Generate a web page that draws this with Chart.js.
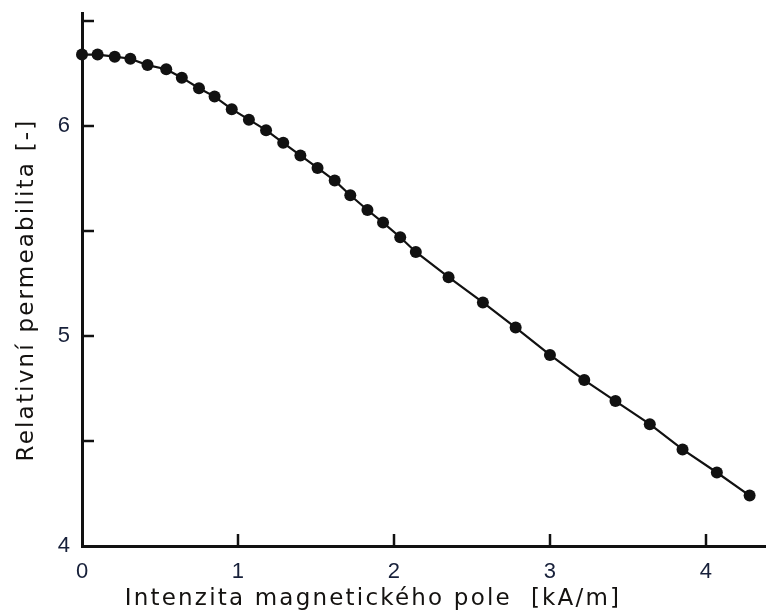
<!DOCTYPE html>
<html>
<head>
<meta charset="utf-8">
<title>Relativní permeabilita</title>
<script src="https://cdn.jsdelivr.net/npm/chart.js@4.4.1/dist/chart.umd.min.js"></script>
<style>
    html, body {
        margin: 0;
        padding: 0;
        background: #ffffff;
    }
    #chartBox {
        width: 766px;
        height: 611px;
    }
</style>
</head>
<body>
<div id="chartBox">
    <canvas id="permChart" width="766" height="611"></canvas>
</div>
<script>
// intenzita magnetickeho pole [kA/m]
const fieldValues = [
    0.00, 0.10, 0.21, 0.31, 0.42, 0.54, 0.64, 0.75, 0.85, 0.96,
    1.07, 1.18, 1.29, 1.40, 1.51, 1.62, 1.72, 1.83, 1.93, 2.04,
    2.14, 2.35, 2.57, 2.78, 3.00, 3.22, 3.42, 3.64, 3.85, 4.07,
    4.28
];

// relativni permeabilita [-]
const permValues = [
    6.34, 6.34, 6.33, 6.32, 6.29, 6.27, 6.23, 6.18, 6.14, 6.08,
    6.03, 5.98, 5.92, 5.86, 5.80, 5.74, 5.67, 5.60, 5.54, 5.47,
    5.40, 5.28, 5.16, 5.04, 4.91, 4.79, 4.69, 4.58, 4.46, 4.35,
    4.24
];

const xTickLabels = ["0", "1", "2", "3", "4"];
const yTickLabels = ["4", "5", "6"];

const xTitle = "Intenzita magnetického pole  [kA/m]";
const yTitle = "Relativní permeabilita [-]";

const points = fieldValues.map((x, i) => ({ x: x, y: permValues[i] }));

// short tick marks pointing into the plot, like the original figure
const innerTicks = {
    id: "innerTicks",
    afterDraw(chart) {
        const ctx = chart.ctx;
        const xs = chart.scales.x;
        const ys = chart.scales.y;
        ctx.save();
        ctx.strokeStyle = "#111111";
        ctx.lineWidth = 2.5;
        ys.ticks.forEach(t => {
            if (t.value <= ys.min) return;
            const y = Math.round(ys.getPixelForValue(t.value));
            ctx.beginPath();
            ctx.moveTo(xs.left, y);
            ctx.lineTo(xs.left + 12, y);
            ctx.stroke();
        });
        xs.ticks.forEach(t => {
            if (t.value <= xs.min) return;
            const x = Math.round(xs.getPixelForValue(t.value));
            ctx.beginPath();
            ctx.moveTo(x, ys.bottom);
            ctx.lineTo(x, ys.bottom - 12);
            ctx.stroke();
        });
        ctx.restore();
    }
};

const axisTitles = {
    id: "axisTitles",
    afterDraw(chart) {
        const ctx = chart.ctx;
        ctx.save();
        ctx.fillStyle = "#141210";
        ctx.font = "23px 'DejaVu Sans'";
        ctx.textAlign = "center";
        ctx.textBaseline = "alphabetic";
        ctx.letterSpacing = "2.2px";
        ctx.fillText(xTitle, 373, 605);

        ctx.translate(33, 290);
        ctx.rotate(-Math.PI / 2);
        ctx.fillText(yTitle, 0, 0);
        ctx.restore();
    }
};

function noEdgePadding(scale) {
    scale.paddingTop = 0;
    scale.paddingBottom = 0;
    scale.paddingLeft = 0;
    scale.paddingRight = 0;
}

new Chart(document.getElementById("permChart"), {
    type: "scatter",
    data: {
        datasets: [
            {
                label: "permeabilita",
                data: points,
                showLine: true,
                borderColor: "#111111",
                borderWidth: 2.2,
                backgroundColor: "#111111",
                pointRadius: 6,
                pointBorderWidth: 0,
                pointHoverRadius: 6,
                tension: 0,
                clip: false
            }
        ]
    },
    options: {
        responsive: false,
        animation: false,
        layout: {
            autoPadding: false,
            padding: { top: 13, right: 0, bottom: 0, left: 0 }
        },
        plugins: {
            legend: { display: false },
            tooltip: { enabled: false }
        },
        scales: {
            x: {
                type: "linear",
                min: 0,
                max: 4.385,
                afterFit(scale) {
                    scale.height = 65;
                    noEdgePadding(scale);
                },
                grid: { display: false, drawTicks: false },
                border: { display: true, color: "#111111", width: 3 },
                ticks: {
                    stepSize: 1,
                    includeBounds: false,
                    padding: 13,
                    color: "#17203a",
                    font: { family: "'Liberation Sans', Arial, sans-serif", size: 22 },
                    callback: function (value) {
                        const i = xTickLabels.indexOf(String(value));
                        return i >= 0 ? xTickLabels[i] : "";
                    }
                }
            },
            y: {
                type: "linear",
                min: 4,
                max: 6.538,
                afterFit(scale) {
                    scale.width = 82;
                    noEdgePadding(scale);
                },
                grid: { display: false, drawTicks: false },
                border: { display: true, color: "#111111", width: 3 },
                ticks: {
                    stepSize: 0.5,
                    includeBounds: false,
                    padding: 12,
                    color: "#17203a",
                    font: { family: "'Liberation Sans', Arial, sans-serif", size: 22 },
                    callback: function (value) {
                        const i = yTickLabels.indexOf(String(value));
                        return i >= 0 ? yTickLabels[i] : "";
                    }
                }
            }
        }
    },
    plugins: [innerTicks, axisTitles]
});
</script>
</body>
</html>
